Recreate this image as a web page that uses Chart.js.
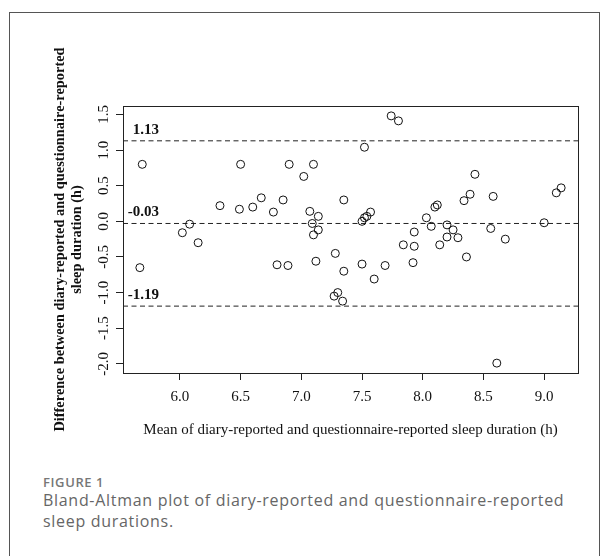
<!DOCTYPE html>
<html>
<head>
<meta charset="utf-8">
<script src="https://cdn.jsdelivr.net/npm/chart.js@4.4.0/dist/chart.umd.min.js"></script>
<style>
  html, body { margin: 0; padding: 0; background: #fff; }
  body { width: 609px; height: 556px; position: relative; overflow: hidden; }
  .frame { position: absolute; left: 9px; top: 12px; width: 591px; height: 600px; border: 1px solid #555; box-sizing: border-box; }
  #c { position: absolute; left: 0; top: 0; }
  .figlabel { position: absolute; left: 43px; top: 473px; font-family: "Open Sans", sans-serif; font-weight: 600; font-size: 13px; color: #777; letter-spacing: 0.6px; }
  .caption { position: absolute; left: 43px; top: 490px; width: 566px; font-family: "Open Sans", sans-serif; font-size: 16px; line-height: 21px; color: #666; letter-spacing: 0.7px; white-space: nowrap; }
</style>
</head>
<body>
<div class="frame"></div>
<canvas id="c" width="609" height="470"></canvas>
<div class="figlabel">FIGURE 1</div>
<div class="caption">Bland-Altman plot of diary-reported and questionnaire-reported<br>sleep durations.</div>
<script>
// ---- data ----
const meanValues = [5.69,5.67,6.02,6.08,6.15,6.33,6.50,6.49,6.60,6.67,6.77,6.80,6.89,6.90,6.85,7.02,7.10,7.07,7.14,7.09,7.14,7.10,7.12,7.74,7.80,7.52,7.35,7.28,7.35,7.50,7.60,7.69,7.50,7.52,7.54,7.57,7.84,7.93,7.93,7.92,8.03,8.07,8.10,8.12,8.14,8.20,8.20,8.25,8.29,8.36,8.34,8.39,8.43,8.58,8.56,8.68,9.00,9.10,9.14,7.27,7.30,7.34,8.61];
const diffValues = [0.80,-0.65,-0.16,-0.04,-0.30,0.22,0.80,0.17,0.20,0.33,0.13,-0.61,-0.62,0.80,0.30,0.63,0.80,0.14,0.07,-0.03,-0.12,-0.19,-0.56,1.48,1.41,1.04,0.30,-0.45,-0.70,-0.60,-0.81,-0.62,0.00,0.05,0.07,0.13,-0.33,-0.15,-0.35,-0.58,0.05,-0.07,0.20,0.23,-0.33,-0.05,-0.22,-0.12,-0.23,-0.50,0.29,0.38,0.66,0.35,-0.10,-0.25,-0.02,0.40,0.47,-1.05,-1.00,-1.12,-1.99];
const limitValues = [1.13, -0.03, -1.19];
const limitLabels = ["1.13", "-0.03", "-1.19"];
const xTicks = [6.0, 6.5, 7.0, 7.5, 8.0, 8.5, 9.0];
const yTicks = [-2.0, -1.5, -1.0, -0.5, 0.0, 0.5, 1.0, 1.5];
const xTitle = "Mean of diary-reported and questionnaire-reported sleep duration (h)";
const yTitle = ["Difference between diary-reported and questionnaire-reported", "sleep duration (h)"];

// axis ranges (R style 4% extension of data range)
const xMin = Math.min(...meanValues), xMax = Math.max(...meanValues);
const yMin = Math.min(...diffValues), yMax = Math.max(...diffValues);
const xPad = (xMax - xMin) * 0.04, yPad = (yMax - yMin) * 0.04;
const X0 = xMin - xPad, X1 = xMax + xPad, Y0 = yMin - yPad, Y1 = yMax + yPad;

const points = meanValues.map((m, i) => ({ x: m, y: diffValues[i] }));
const limitSets = limitValues.map(v => ({
  type: 'line',
  data: [{ x: X0, y: v }, { x: X1, y: v }],
  borderColor: '#222',
  borderWidth: 1,
  borderDash: [5, 3.5],
  pointRadius: 0,
  fill: false,
  order: 2
}));

const serif = "'Liberation Serif', 'Times New Roman', serif";

const boxPlugin = {
  id: 'boxAndLabels',
  afterDraw(chart) {
    const { ctx, chartArea: a, scales } = chart;
    ctx.save();
    ctx.strokeStyle = '#222';
    ctx.lineWidth = 1;
    ctx.strokeRect(Math.round(a.left) + 0.5, Math.round(a.top) + 0.5, Math.round(a.right - a.left), Math.round(a.bottom - a.top));
    ctx.fillStyle = '#111';
    ctx.font = "bold 15px " + serif;
    ctx.textAlign = 'right';
    ctx.textBaseline = 'alphabetic';
    limitValues.forEach((v, i) => {
      const py = scales.y.getPixelForValue(v);
      ctx.fillText(limitLabels[i], a.left + 36, py - 7);
    });
    ctx.restore();
  }
};

new Chart(document.getElementById('c'), {
  type: 'scatter',
  data: {
    datasets: [{
      data: points,
      pointStyle: 'circle',
      pointRadius: 4,
      pointBorderWidth: 1,
      borderColor: '#111',
      backgroundColor: 'rgba(0,0,0,0)',
      pointHoverRadius: 4,
      order: 1
    }, ...limitSets]
  },
  options: {
    responsive: false,
    animation: false,
    events: [],
    layout: { padding: { left: 0, top: 106, right: 31, bottom: 0 } },
    plugins: { legend: { display: false }, tooltip: { enabled: false } },
    scales: {
      x: {
        type: 'linear',
        min: X0, max: X1,
        afterBuildTicks(s) { s.ticks = xTicks.map(v => ({ value: v })); },
        afterFit(s) { s.height = 97; },
        grid: { display: true, drawOnChartArea: false, drawTicks: true, tickLength: 7, tickColor: '#222', color: '#222' },
        border: { display: false },
        ticks: { font: { family: serif, size: 15 }, color: '#111', padding: 8, maxRotation: 0, autoSkip: false,
          callback: v => Number(v).toFixed(1) },
        title: { display: true, text: xTitle, font: { family: serif, size: 15 }, color: '#111', padding: { top: 0, bottom: 31 } }
      },
      y: {
        type: 'linear',
        min: Y0, max: Y1,
        afterBuildTicks(s) { s.ticks = yTicks.map(v => ({ value: v })); },
        afterFit(s) { s.width = 123; },
        grid: { display: true, drawOnChartArea: false, drawTicks: true, tickLength: 7, tickColor: '#222', color: '#222' },
        border: { display: false },
        ticks: { font: { family: serif, size: 15 }, color: '#111', padding: 0, minRotation: 90, maxRotation: 90, crossAlign: 'center', autoSkip: false,
          callback: v => Number(v).toFixed(1) },
        title: { display: true, text: yTitle, font: { family: serif, size: 14.4, weight: 'bold', lineHeight: 1.15 }, color: '#111', padding: { top: 52, bottom: 0 } }
      }
    }
  },
  plugins: [boxPlugin]
});
</script>
</body>
</html>
